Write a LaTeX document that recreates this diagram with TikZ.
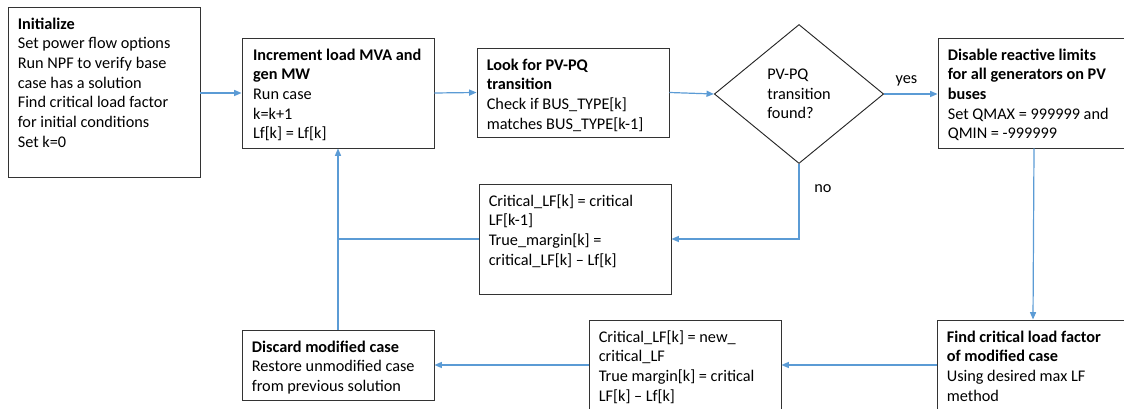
\documentclass[tikz,border=0pt]{standalone}
\usepackage{fontspec}
\setmainfont{Carlito}
\usetikzlibrary{arrows.meta,shapes.geometric,fit}
\definecolor{flowblue}{RGB}{91,155,213}
\tikzset{
  stepbox/.style={draw=black!80, line width=0.7pt, rectangle, inner sep=0pt},
  boxtext/.style={anchor=north west, align=left, inner sep=0pt, font=\fontsize{12.2}{14.8}\selectfont},
  decision/.style={draw=black!85, line width=0.7pt, diamond, inner sep=0pt, align=left,
    minimum width=127pt, minimum height=104.25pt, font=\fontsize{12.2}{14.8}\selectfont},
  flow/.style={draw=flowblue, line width=0.9pt, -{Triangle[length=5.5pt,width=4.5pt]}},
  link/.style={draw=flowblue, line width=0.9pt},
  tag/.style={inner sep=0pt, font=\fontsize{12.2}{14.8}\selectfont}
}

\begin{document}
\begin{tikzpicture}[x=0.75pt, y=-0.75pt]
    \clip (0,0) rectangle (1124,409);

    % Drawing the boxes
    \node[stepbox, fit={(8,7) (200,177)}] (init) {};
    \node[stepbox, fit={(242,38) (434,148)}] (inc) {};
    \node[stepbox, fit={(477,48) (669,137)}] (look) {};
    \node[stepbox, fit={(938,38) (1130,148)}] (dis) {};
    \node[stepbox, fit={(479,184) (671,294)}] (crit1) {};
    \node[stepbox, fit={(242,330) (434,400)}] (disc) {};
    \node[stepbox, fit={(589,320) (781,430)}] (crit2) {};
    \node[stepbox, fit={(937,320) (1129,430)}] (find) {};

    % Decision
    \node[decision] (found) at (799,94) {PV-PQ\\transition\\found?};

    % Box texts
    \node[boxtext] (init-t) at ([shift={(7.5pt,-6.3pt)}]init.north west)
        {\strut\textbf{Initialize}\\Set power flow options\\Run NPF to verify base\\case has a solution\\Find critical load factor\\for initial conditions\\Set k=0};
    \node[boxtext] (inc-t) at ([shift={(8.5pt,-6.3pt)}]inc.north west)
        {\strut\textbf{Increment load MVA and}\\\textbf{gen MW}\\Run case\\k=k+1\\Lf[k] = Lf[k]};
    \node[boxtext] (look-t) at ([shift={(7.5pt,-6.3pt)}]look.north west)
        {\strut\textbf{Look for PV-PQ}\\\textbf{transition}\\Check if BUS\_TYPE[k]\\matches BUS\_TYPE[k-1]};
    \node[boxtext] (dis-t) at ([shift={(7.5pt,-6.3pt)}]dis.north west)
        {\strut\textbf{Disable reactive limits}\\\textbf{for all generators on PV}\\\textbf{buses}\\Set QMAX = 999999 and\\QMIN = -999999};
    \node[boxtext] (crit1-t) at ([shift={(7.5pt,-6.3pt)}]crit1.north west)
        {\strut Critical\_LF[k] = critical\\LF[k-1]\\True\_margin[k] =\\critical\_LF[k] – Lf[k]};
    \node[boxtext] (disc-t) at ([shift={(7.5pt,-6.3pt)}]disc.north west)
        {\strut\textbf{Discard modified case}\\Restore unmodified case\\from previous solution};
    \node[boxtext] (crit2-t) at ([shift={(7.5pt,-6.3pt)}]crit2.north west)
        {\strut Critical\_LF[k] = new\_\\critical\_LF\\True margin[k] = critical\\LF[k] – Lf[k]};
    \node[boxtext] (find-t) at ([shift={(7.5pt,-6.3pt)}]find.north west)
        {\strut\textbf{Find critical load factor}\\\textbf{of modified case}\\Using desired max LF\\method};

    % Connectors along the top row
    \draw[flow] (init.east |- inc.west) -- (inc.west);
    \draw[flow] (inc.east) -- (look.west);
    \draw[flow] (look.east) -- (found.west);
    \draw[flow] (found.east) -- (found.east -| dis.west);
    \node[tag] (yes) at (906.5,81) {yes};

    % No branch and loop back
    \draw[flow] (found.south) |- (crit1.east);
    \node[tag] (no) at (823,189) {no};
    \draw[flow] (crit1.west) -| (inc.south);
    \draw[link] (disc.north) -- (disc.north |- crit1.west);

    % Yes branch
    \draw[flow] (dis.south) -- (find.north);
    \draw[flow] (find.west |- disc.east) -- (crit2.east |- disc.east);
    \draw[flow] (crit2.west |- disc.east) -- (disc.east);
\end{tikzpicture}
\end{document}
